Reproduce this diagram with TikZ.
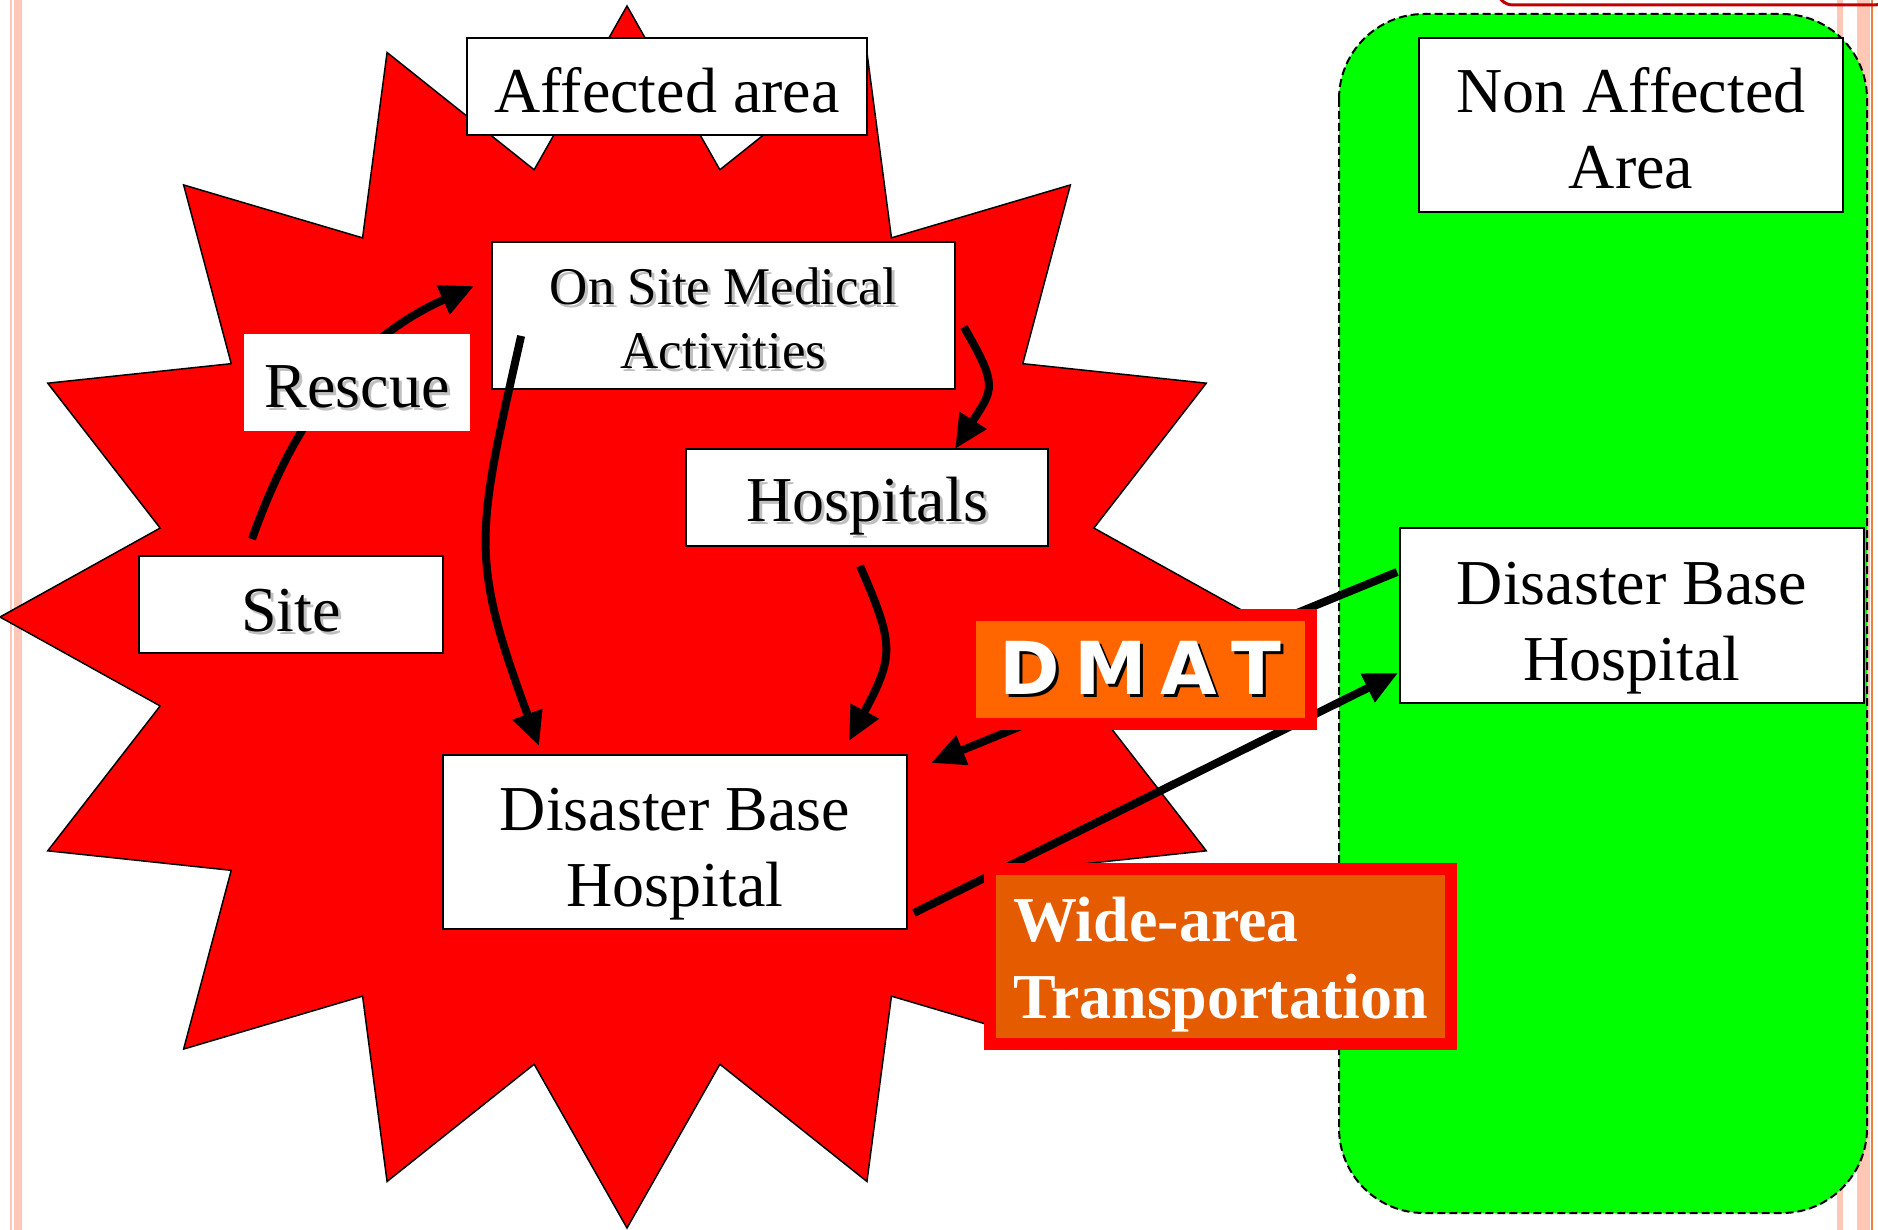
\documentclass[tikz,border=0pt]{standalone}
\usepackage{fontspec}
\setmainfont{Liberation Serif}
\newfontfamily\dmatfont{DejaVu Sans}
\usetikzlibrary{arrows.meta,calc}

\definecolor{starred}{RGB}{255,0,0}
\definecolor{zonegreen}{RGB}{0,255,0}
\definecolor{dmatorange}{RGB}{255,102,0}
\definecolor{wideorange}{RGB}{229,92,0}
\definecolor{railpink}{RGB}{255,200,182}
\definecolor{railorange}{RGB}{240,128,64}
\definecolor{framered}{RGB}{192,0,0}

% text with an offset drop shadow: colour, offset, text
\newcommand{\shad}[3]{\makebox[0pt][l]{\hspace*{#2}\raisebox{-#2}{\textcolor{#1}{#3}}}#3}
% invisible strut that lowers a centred label by the given amount
\newcommand{\drop}[1]{\rule{0pt}{\dimexpr 0.7em + #1 + #1\relax}}

\tikzset{
  box/.style={draw=black, line width=1.8pt, fill=white, inner sep=0pt,
    align=center, font=\fontsize{64}{76}\selectfont},
  plainbox/.style={box, draw=none},
  tagbox/.style={draw=starred, line width=12pt, inner sep=0pt, text=white},
  conn/.style={line width=8pt, -{Triangle[length=34pt,width=30pt]}},
  zone/.style={fill=zonegreen, draw=black, line width=2pt,
    dash pattern=on 8pt off 4pt, rounded corners=85pt}
}

\begin{document}
\begin{tikzpicture}[x=1pt, y=-1pt]
\useasboundingbox (0,0) rectangle (1878,1230);
\clip (0,0) rectangle (1878,1230);

% page rails
\fill[railpink] (10,0) rectangle (12,1230);
\fill[railpink] (14,0) rectangle (22,1230);
\fill[railpink] (1837,0) rectangle (1843,1230);
\fill[railpink] (1857,0) rectangle (1870,1230);
\fill[railorange] (1871,0) rectangle (1872.5,1230);
\draw[framered, line width=3pt, rounded corners=16pt] (1497,-40) rectangle (1890,5);

% affected area: 16-point star
\draw[fill=starred, draw=black, line width=1.5pt]
  plot[samples at={0,...,31}, variable=\k]
  ({627 + ifthenelse(mod(\k,2)==0,627,476)*cos(90+11.25*\k)},
   {617 - ifthenelse(mod(\k,2)==0,611,456)*sin(90+11.25*\k)}) -- cycle;

% non-affected area
\draw[zone] (1339,14) rectangle (1867,1213);

% boxes
\node[box, minimum width=400pt, minimum height=97pt] (aff) at (667,86.5) {\drop{4pt}Affected area};
\node[box, minimum width=424pt, minimum height=174pt] (nonaff) at (1631,125) {\drop{3pt}Non Affected\\Area};
\node[box, minimum width=463pt, minimum height=147pt, font=\fontsize{53}{64}\selectfont]
  (onsite) at (723.5,315.5) {\drop{4pt}\shad{black!25}{3pt}{On Site Medical}\\\shad{black!25}{3pt}{Activities}};
\node[box, minimum width=304pt, minimum height=97pt] (site) at (291,604.5) {\drop{6pt}\shad{black!25}{3pt}{Site}};
\node[box, minimum width=362pt, minimum height=97pt] (hosp) at (867,497.5) {\drop{10pt}\shad{black!25}{3pt}{Hospitals}};
\node[box, minimum width=464pt, minimum height=174pt] (dbhL) at (675,842) {\drop{11pt}Disaster Base\\Hospital};
\node[box, minimum width=464pt, minimum height=175pt] (dbhR) at (1632,615.5) {\drop{11pt}Disaster Base\\Hospital};

% connectors
\draw[conn] ($(site.north)+(-39,-16)$) .. controls +(43,-122) and +(-118,53) .. ($(onsite.west)+(-17,-29.5)$);
\draw[conn] ($(onsite.south west)+(30,-54)$) .. controls +(-45,200) and +(-70,-190) .. ($(dbhL.north west)+(97,-8)$);
\draw[conn] ($(onsite.east)+(8,11.5)$) .. controls +(35,60) and +(38,-60) .. ($(hosp.north)+(88,1)$);
\draw[conn] ($(hosp.south)+(-7,19)$) .. controls +(35,80) and +(45,-85) .. ($(dbhL.north east)+(-59,-13)$);
\draw[conn] ($(dbhR.west)+(-2,-43.5)$) -- ($(dbhL.east)+(23,-79)$);
\draw[conn] ($(dbhL.east)+(6,71)$) -- ($(dbhR.west)+(-1,57.5)$);

% labels over the connectors
\node[plainbox, minimum width=226pt, minimum height=97pt] (rescue) at (357,382.5) {\drop{4pt}\shad{black!25}{3pt}{Rescue}};
\node[tagbox, fill=dmatorange, minimum width=341pt, minimum height=109pt,
  font=\dmatfont\bfseries\fontsize{73}{80}\selectfont] (dmat) at (1140.5,669.5)
  {\shad{black}{3pt}{D\hspace{14pt}M\hspace{14pt}A\hspace{14pt}T}};
\node[tagbox, fill=wideorange, minimum width=461pt, minimum height=175pt, align=left,
  font=\bfseries\fontsize{64}{77}\selectfont] (wide) at (1220.5,956.5)
  {\drop{8pt}Wide-area\\Transportation};
\end{tikzpicture}
\end{document}
